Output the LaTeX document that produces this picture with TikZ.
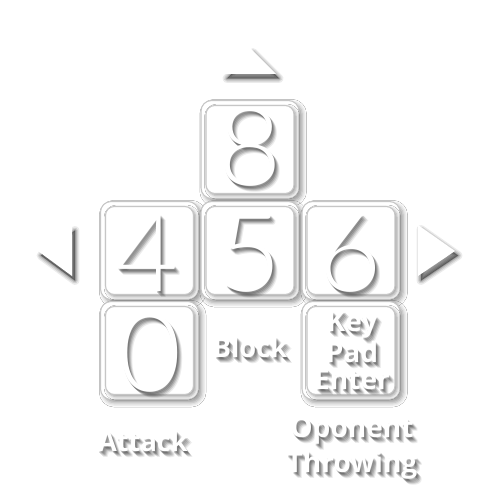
\documentclass[tikz,border=0pt]{standalone}
\usepackage{fontspec}
\usetikzlibrary{calc,shadows.blur}
\newfontfamily\thinfont{Lato Light}
\newfontfamily\boldfont{Open Sans Bold}
\newcommand\stext[4]{%
  \foreach \dx/\dy/\op in {1/2/0.18,2/3/0.18,3/4/0.15,4/5/0.12,5/6/0.08}
    \node[text=black,opacity=\op,font=#3,align=center,inner sep=0pt] at ($(#2)+(\dx,\dy)$) {#4};
  \node[text=white,font=#3,align=center,inner sep=0pt] (#1) at (#2) {#4};}
\newcommand\stri[1]{%
  \foreach \w/\op in {5/0.08,3.5/0.1,2/0.13,0.8/0.16}
    \filldraw[black,opacity=\op,line width=\w pt,line join=round,shift={(3,4.5)}] #1;
  \fill[white] #1;}
\tikzset{
  outerkey/.style={draw=gray!45,line width=0.6pt,fill=white,rounded corners=6pt,
    minimum width=1.96cm,minimum height=1.96cm,inner sep=0pt,
    blur shadow={shadow xshift=1.8pt,shadow yshift=-1.8pt,shadow blur radius=2.5pt,shadow opacity=40}},
  innerkey/.style={draw=gray!45,line width=0.6pt,fill=white,rounded corners=5pt,
    minimum width=1.76cm,minimum height=1.76cm,inner sep=0pt,
    blur shadow={shadow xshift=1.2pt,shadow yshift=-1.2pt,shadow blur radius=2pt,shadow opacity=40}},
}
\begin{document}
\begin{tikzpicture}[x=0.02cm,y=-0.02cm]
\useasboundingbox[fill=white] (0,0) rectangle (500,500);
% keys
\foreach \n/\x/\y in {8/250/149.5,4/149.5/250.5,5/250/250.5,6/351/250.5,0/149.5/350.5,E/351/350.5}{
  \node[outerkey] (o\n) at (\x,\y) {};
  \node[innerkey] (i\n) at (\x,\y) {};
}
% digits
\stext{d8}{250,147}{\thinfont\fontsize{62}{62}\selectfont}{8}
\stext{d4}{147,253}{\thinfont\fontsize{62}{62}\selectfont}{4}
\stext{d5}{250,253}{\thinfont\fontsize{62}{62}\selectfont}{5}
\stext{d6}{350,253}{\thinfont\fontsize{62}{62}\selectfont}{6}
\stext{d0}{150,353}{\thinfont\fontsize{62}{62}\selectfont}{0}
% enter text
\stext{kkey}{352,325}{\boldfont\fontsize{16}{18}\selectfont}{Key}
\stext{kpad}{352,352}{\boldfont\fontsize{16}{18}\selectfont}{Pad}
\stext{kent}{352,380}{\boldfont\fontsize{16}{18}\selectfont}{Enter}
% labels
\stext{lblock}{250,347}{\boldfont\fontsize{15.5}{18}\selectfont}{Block}
\stext{lattack}{143,441}{\boldfont\fontsize{15.5}{18}\selectfont}{Attack}
\stext{lopo}{352,431}{\boldfont\fontsize{16}{18}\selectfont}{Oponent}
\stext{lthrow}{352,465}{\boldfont\fontsize{16}{18}\selectfont}{Throwing}
% triangles
\stri{(224,74) -- (250,48) -- (276,74) -- cycle}
\stri{(72,226) -- (38,251) -- (72,276) -- cycle}
\stri{(418,225) -- (455,251) -- (418,276) -- cycle}
\end{tikzpicture}
\end{document}
